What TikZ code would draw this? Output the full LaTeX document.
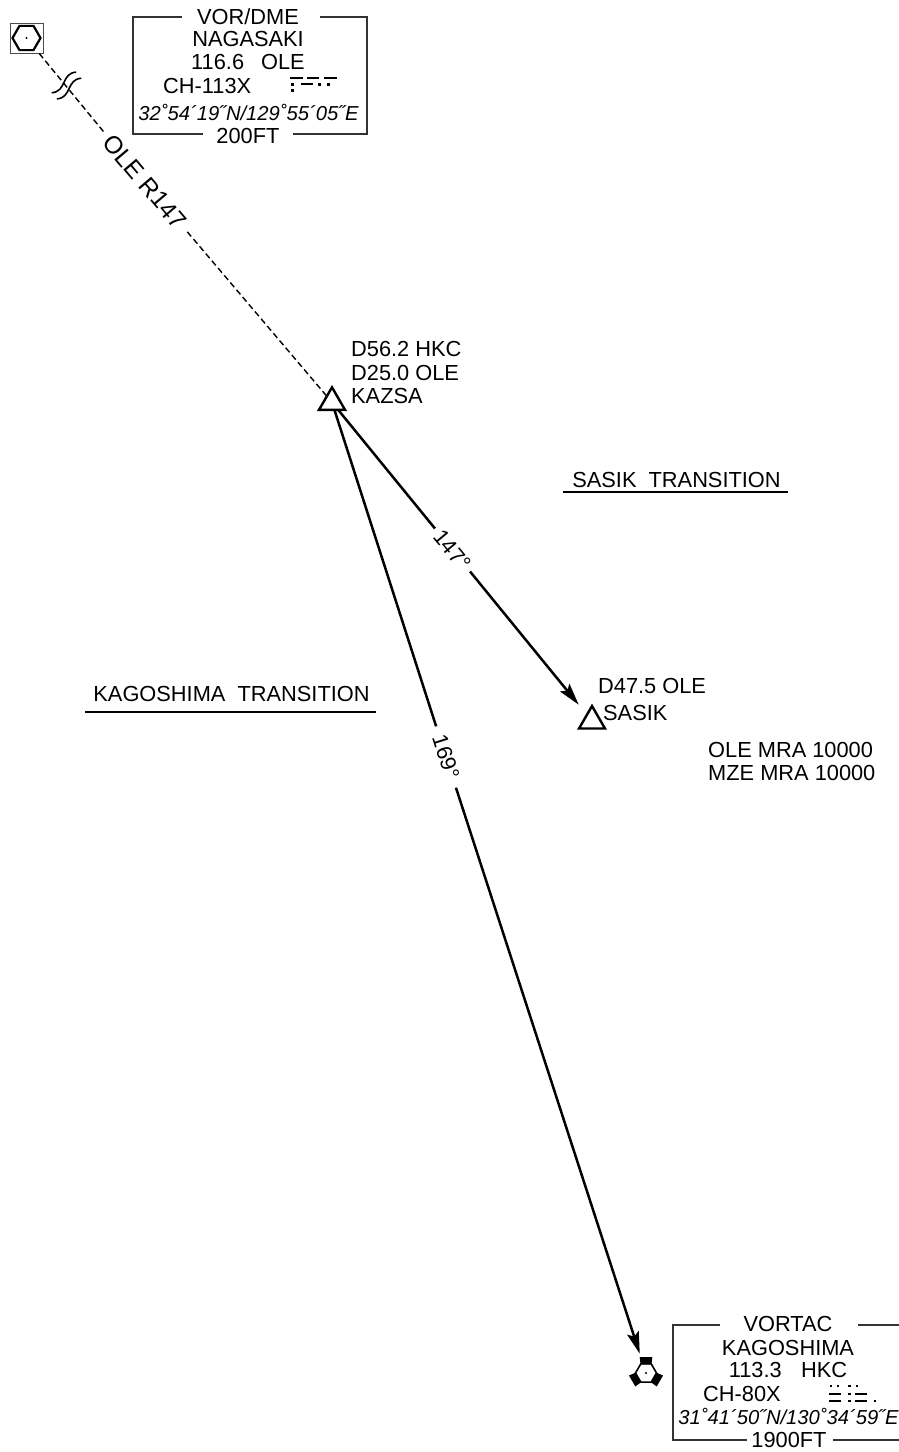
\documentclass[tikz,border=0pt]{standalone}
\usepackage{fontspec}
\setmainfont{Liberation Sans}
\usetikzlibrary{arrows.meta,shapes.geometric}
\begin{document}
\begin{tikzpicture}[x=1pt,y=-1pt,
  txt/.style={inner sep=0pt,font=\fontsize{21.8}{24}\selectfont,text=black},
  crd/.style={inner sep=0pt,font=\fontsize{20.2}{24}\selectfont\itshape,text=black},
  boxline/.style={line width=1.1pt,draw=black!80},
  course/.style={line width=2.5pt},
  dashedcourse/.style={line width=1.4pt,dash pattern=on 6pt off 3.5pt},
  fixpt/.style={regular polygon,regular polygon sides=3,minimum size=30pt,inner sep=0pt,outer sep=0pt,draw,line width=2.4pt},
  arrowtip/.style={-{Stealth[length=22pt,width=12pt,inset=4pt]}},
  morse/.style={line width=2.2pt},
]
\useasboundingbox (0,0) rectangle (899,1452);
\fill[white] (0,0) rectangle (899,1452);

% ---------- VOR/DME NAGASAKI symbol ----------
\node[draw=black!70,line width=1pt,minimum width=33pt,minimum height=30pt,inner sep=0pt] (vor) at (26.5,38) {};
\draw[line width=2.2pt,line join=miter] (26.5,38) +(0:14) -- +(60:14) -- +(120:14) -- +(180:14) -- +(240:14) -- +(300:14) -- cycle;
\fill (vor.center) circle (1.2pt);

% break symbol on the radial
\begin{scope}[shift={(66.5,85.5)},rotate=40.2]
  \draw[line width=1.6pt] (-16,-4) .. controls (-4,5) and (4,-13) .. (16,-4);
  \draw[line width=1.6pt] (-16,4) .. controls (-4,13) and (4,-5) .. (16,4);
\end{scope}

% ---------- VOR/DME box ----------
\draw[boxline] (182,17) -- (133,17) -- (133,134) -- (203,134);
\draw[boxline] (320,17) -- (367,17) -- (367,134) -- (293,134);
\node[txt,anchor=base] (vorA) at (248,24.3) {VOR/DME};
\node[txt,anchor=base] (vorB) at (248,46.8) {NAGASAKI};
\node[txt,anchor=base] (vorC) at (248,69.8) {116.6\hspace{17pt}OLE};
\node[txt,anchor=base west] (vorD) at (163,93.3) {CH-113X};
\node[crd,anchor=base] (vorE) at (248.5,120.8) {32˚54´19˝N/129˚55´05˝E};
\node[txt,anchor=base] (vorF) at (248,143.8) {200FT};
% morse OLE
\foreach \a/\b in {290/302.7,307.3/319.3,324.3/336.7} \draw[morse] (\a,77.7) -- (\b,77.7);
\draw[morse] (300.7,84.3) -- (312.7,84.3);
\foreach \x/\y in {292.7/84.3,319.3/84.3,328.3/84.3,292.7/90.7} \fill (\x-1.4,\y-1.4) rectangle (\x+1.4,\y+1.4);

% ---------- fixes ----------
\node[fixpt] (kazsa) at (332,402.3) {};
\node[fixpt] (sasik) at (592,721) {};
\node[txt,anchor=base west] (kazA) at (351,356.8) {D56.2 HKC};
\node[txt,anchor=base west] (kazB) at (351,380.3) {D25.0 OLE};
\node[txt,anchor=base west] (kazC) at (351,403.8) {KAZSA};
\node[txt,anchor=base west] (sasA) at (598,693.8) {D47.5 OLE};
\node[txt,anchor=base west] (sasB) at (603,720.3) {SASIK};

% ---------- VORTAC KAGOSHIMA symbol ----------
\node[circle,minimum size=40pt,inner sep=0pt] (vortac) at (646,1373) {};
\begin{scope}[shift={(646,1373)},yscale=-1]
  \draw[line width=1.6pt,line join=miter] (0:10.5) -- (60:10.5) -- (120:10.5) -- (180:10.5) -- (240:10.5) -- (300:10.5) -- cycle;
  \foreach \r in {0,120,240} \fill[rotate=\r] (-5.5,8.6) -- (5.5,8.6) -- (6.3,16) -- (-6.3,16) -- cycle;
  \fill (0,0) circle (1.1pt);
\end{scope}

% ---------- VORTAC box ----------
\draw[boxline] (720,1325) -- (673,1325) -- (673,1440) -- (747,1440);
\draw[boxline] (858,1325) -- (899,1325);
\draw[boxline] (833,1440) -- (899,1440);
\node[txt,anchor=base] (vtA) at (788,1331.8) {VORTAC};
\node[txt,anchor=base] (vtB) at (788,1355.3) {KAGOSHIMA};
\node[txt,anchor=base] (vtC) at (788,1377.8) {113.3\hspace{19.5pt}HKC};
\node[txt,anchor=base west] (vtD) at (703,1401.8) {CH-80X};
\node[crd,anchor=base] (vtE) at (788.5,1424.8) {31˚41´50˝N/130˚34´59˝E};
\node[txt,anchor=base] (vtF) at (789,1447.8) {1900FT};
% morse HKC
\foreach \x in {831,838,849.3,857} \fill (\x-1.4,1386-1.4) rectangle (\x+1.4,1386+1.4);
\foreach \y in {1394,1401} {
  \draw[morse] (829.3,\y) -- (840.7,\y);
  \draw[morse] (855,\y) -- (866.7,\y);
  \fill (849.3-1.4,\y-1.4) rectangle (849.3+1.4,\y+1.4);
}
\fill (875-1.4,1401-1.4) rectangle (875+1.4,1401+1.4);

% ---------- labels on the tracks ----------
\node[txt,font=\fontsize{24.5}{26}\selectfont,rotate=-49.8,inner xsep=8pt] (lblR) at (145,182) {OLE R147};
\node[txt,rotate=-50.2,inner xsep=5pt] (lbl147) at (452.5,550) {147°};
\node[txt,rotate=-72.2,inner xsep=9.5pt] (lbl169) at (446,757) {169°};

% ---------- tracks ----------
\draw[dashedcourse] (vor) -- (lblR);
\draw[dashedcourse] (lblR) -- (kazsa);
\draw[course] (kazsa) -- (lbl147);
\draw[course,arrowtip,shorten >=13pt] (lbl147) -- (sasik);
\draw[course] (kazsa) -- (lbl169);
\draw[course,arrowtip] (lbl169) -- (vortac);

% ---------- transitions / notes ----------
\node[txt,anchor=base] (sasT) at (676.5,487.8) {SASIK\ \ TRANSITION};
\draw[line width=1.2pt] (563,492) -- (788,492);
\node[txt,anchor=base] (kagT) at (231.5,701.8) {KAGOSHIMA\ \ TRANSITION};
\draw[line width=1.2pt] (85,712) -- (376,712);
\node[txt,anchor=base west] (mraA) at (708,757.8) {OLE MRA 10000};
\node[txt,anchor=base west] (mraB) at (708,780.8) {MZE MRA 10000};
\end{tikzpicture}
\end{document}
